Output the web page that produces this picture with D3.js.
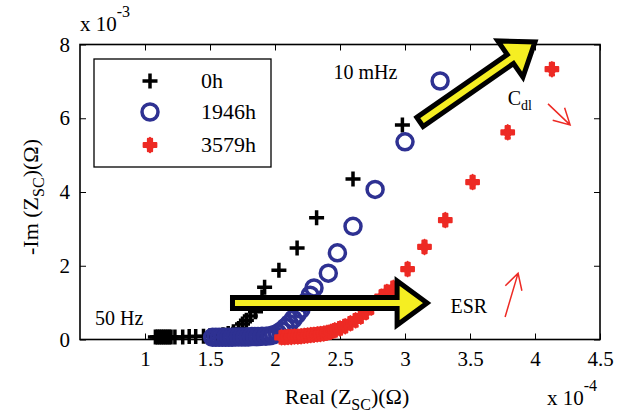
<!DOCTYPE html>
<html>
<head>
<meta charset="utf-8">
<script src="https://cdn.jsdelivr.net/npm/d3@7"></script>
<style>
body { margin: 0; background: #fff; }
text { font-family: "Liberation Serif", "Times New Roman", serif; fill: #000; }
</style>
</head>
<body>
<div id="chart"></div>
<script>
// Nyquist data: [Real x 1e-4, -Im x 1e-3]
const h0 = [
  [1.08,0.07],[1.095,0.07],[1.11,0.07],[1.125,0.07],[1.14,0.07],[1.155,0.07],[1.17,0.07],[1.185,0.07],[1.20,0.07],
  [1.23,0.07],[1.29,0.07],[1.34,0.08],[1.39,0.08],[1.45,0.09],[1.50,0.10],[1.55,0.11],[1.60,0.13],[1.64,0.16],
  [1.68,0.21],[1.72,0.30],[1.75,0.42],[1.78,0.52],[1.81,0.64],[1.85,0.75],[1.88,0.95],[1.90,1.15],[1.92,1.42],
  [2.03,1.88],[2.17,2.48],[2.32,3.30],[2.60,4.35],[2.98,5.82]
];
const h1946 = [
  [1.52,0.06],[1.545,0.06],[1.57,0.06],[1.595,0.06],[1.62,0.06],[1.645,0.06],[1.67,0.06],[1.695,0.07],[1.72,0.07],
  [1.745,0.07],[1.77,0.07],[1.795,0.07],[1.82,0.08],[1.845,0.08],[1.87,0.08],[1.90,0.09],[1.93,0.09],[1.96,0.10],
  [1.99,0.13],[2.02,0.17],[2.05,0.24],[2.08,0.33],[2.11,0.43],[2.14,0.55],[2.17,0.68],[2.20,0.82],[2.23,1.00],
  [2.27,1.20],[2.30,1.40],[2.41,1.80],[2.48,2.35],[2.60,3.07],[2.77,4.07],[3.00,5.36],[3.27,7.01]
];
const h3579 = [
  [2.05,0.06],[2.075,0.06],[2.10,0.07],[2.125,0.07],[2.15,0.08],[2.175,0.08],[2.20,0.09],[2.225,0.10],[2.25,0.11],
  [2.275,0.12],[2.30,0.13],[2.325,0.14],[2.35,0.15],[2.375,0.16],[2.40,0.18],[2.43,0.21],[2.46,0.25],[2.50,0.30],
  [2.54,0.36],[2.58,0.44],[2.62,0.52],[2.66,0.62],[2.70,0.74],[2.74,0.87],[2.78,1.01],[2.82,1.16],[2.86,1.29],
  [2.91,1.40],[3.02,1.91],[3.15,2.51],[3.31,3.24],[3.52,4.27],[3.79,5.62],[4.13,7.33]
];
const legendLabels = ["0h", "1946h", "3579h"];
const xTicks = [1, 1.5, 2, 2.5, 3, 3.5, 4, 4.5];
const yTicks = [0, 2, 4, 6, 8];
// annotation arrows in data units
const bigArrows = [
  { from: [1.673, 0.99], to: [3.17, 0.99] },
  { from: [3.115, 5.90], to: [4.00, 8.07] }
];
const thinArrows = [
  { from: [4.10, 6.39], to: [4.27, 5.82] },
  { from: [3.77, 0.61], to: [3.87, 1.80] }
];
const notes = [
  { text: "10 mHz", at: [2.45, 7.06] },
  { text: "ESR", at: [3.35, 0.71] },
  { text: "50 Hz", at: [0.615, 0.39] }
];

const width = 630, height = 415;
const svg = d3.select("#chart").append("svg")
  .attr("width", width).attr("height", height);

const x = d3.scaleLinear().domain([0.5, 4.5]).range([80, 600]);
const y = d3.scaleLinear().domain([0, 8]).range([339.5, 44.5]);

const blue = "#2e3192", red = "#ed2a24";

// axes (ticks point inward, box on all sides)
const fmt = d => d3.format("")(d);
svg.append("g").attr("transform", "translate(0,339.5)")
  .call(d3.axisBottom(x).tickValues(xTicks).tickFormat(fmt).tickSize(-6).tickSizeOuter(0).tickPadding(12));
svg.append("g").attr("transform", "translate(0,44.5)")
  .call(d3.axisTop(x).tickValues(xTicks).tickFormat("").tickSize(-6).tickSizeOuter(0));
svg.append("g").attr("transform", "translate(80,0)")
  .call(d3.axisLeft(y).tickValues(yTicks).tickSize(-6).tickSizeOuter(0).tickPadding(10));
svg.append("g").attr("transform", "translate(600,0)")
  .call(d3.axisRight(y).tickValues(yTicks).tickFormat("").tickSize(-6).tickSizeOuter(0));
svg.selectAll(".tick text").attr("font-size", 21).attr("font-family", "Liberation Serif");
svg.selectAll(".tick line").attr("stroke", "#000").attr("stroke-width", 1);
svg.selectAll(".domain").remove();
svg.append("rect").attr("x", 80).attr("y", 44.5).attr("width", 520).attr("height", 295)
  .attr("fill", "none").attr("stroke", "#000").attr("stroke-width", 1.6);

// axis titles
const xt = svg.append("text").attr("x", 347).attr("y", 404).attr("text-anchor", "middle").attr("font-size", 22);
xt.append("tspan").text("Real (Z");
xt.append("tspan").attr("font-size", 16).attr("dy", 6).text("SC");
xt.append("tspan").attr("dy", -6).text(")(\u03A9)");

const yt = svg.append("text").attr("transform", "translate(38,197) rotate(-90)")
  .attr("text-anchor", "middle").attr("font-size", 22);
yt.append("tspan").text("-Im (Z");
yt.append("tspan").attr("font-size", 16).attr("dy", 6).text("SC");
yt.append("tspan").attr("dy", -6).text(")(\u03A9)");

const ex = svg.append("text").attr("x", 547).attr("y", 405).attr("font-size", 21);
ex.append("tspan").text("x 10");
ex.append("tspan").attr("font-size", 16).attr("dy", -14).text("-4");
const ey = svg.append("text").attr("x", 80).attr("y", 31).attr("font-size", 21);
ey.append("tspan").text("x 10");
ey.append("tspan").attr("font-size", 16).attr("dy", -14).text("-3");

// markers
function plus(g, cx, cy) {
  g.append("path").attr("d", `M${cx - 7.5},${cy}H${cx + 7.5}M${cx},${cy - 7.5}V${cy + 7.5}`)
    .attr("stroke", "#000").attr("stroke-width", 3.5).attr("fill", "none");
}
function ring(g, cx, cy) {
  g.append("circle").attr("cx", cx).attr("cy", cy).attr("r", 8)
    .attr("fill", "none").attr("stroke", blue).attr("stroke-width", 3.5);
}
const crossSym = d3.symbol().type(d3.symbolCross).size(90);
const diamSym = d3.symbol().type(d3.symbolDiamond).size(60);
function star(g, cx, cy) {
  g.append("path").attr("d", crossSym() + diamSym()).attr("transform", `translate(${cx},${cy})`)
    .attr("fill", red).attr("stroke", red).attr("stroke-width", 2).attr("stroke-linejoin", "round");
}
const drawers = [plus, ring, star];

const plot = svg.append("g");
[h0, h1946, h3579].forEach((s, i) => {
  s.forEach(d => drawers[i](plot, x(d[0]), y(d[1])));
});

// big yellow arrows
bigArrows.forEach(a => {
  const x0 = x(a.from[0]), y0 = y(a.from[1]), x1 = x(a.to[0]), y1 = y(a.to[1]);
  const len = Math.hypot(x1 - x0, y1 - y0);
  const ang = Math.atan2(y1 - y0, x1 - x0) * 180 / Math.PI;
  const hw = 5.5, hh = 22, hl = 30;
  const pts = [[0, -hw], [len - hl, -hw], [len - hl, -hh], [len, 0], [len - hl, hh], [len - hl, hw], [0, hw]];
  svg.append("polygon")
    .attr("points", pts.map(p => p.join(",")).join(" "))
    .attr("transform", `translate(${x0},${y0}) rotate(${ang})`)
    .attr("fill", "#f5ee22").attr("stroke", "#000").attr("stroke-width", 5)
    .attr("stroke-linejoin", "miter");
});

// thin red arrows
thinArrows.forEach(a => {
  const x0 = x(a.from[0]), y0 = y(a.from[1]), x1 = x(a.to[0]), y1 = y(a.to[1]);
  const ang = Math.atan2(y1 - y0, x1 - x0);
  const hl = 18, spread = 0.5;
  const p1 = [x1 - hl * Math.cos(ang - spread), y1 - hl * Math.sin(ang - spread)];
  const p2 = [x1 - hl * Math.cos(ang + spread), y1 - hl * Math.sin(ang + spread)];
  svg.append("path")
    .attr("d", `M${x0},${y0}L${x1},${y1}M${p1[0]},${p1[1]}L${x1},${y1}L${p2[0]},${p2[1]}`)
    .attr("stroke", red).attr("stroke-width", 1.5).attr("fill", "none");
});

// text notes
notes.forEach(n => {
  svg.append("text").attr("x", x(n.at[0])).attr("y", y(n.at[1])).attr("font-size", 20).text(n.text);
});
const cdl = svg.append("text").attr("x", x(3.79)).attr("y", y(6.36)).attr("font-size", 20);
cdl.append("tspan").text("C");
cdl.append("tspan").attr("font-size", 14).attr("dy", 5).text("dl");

// legend
const lg = svg.append("g");
lg.append("rect").attr("x", 94).attr("y", 59).attr("width", 177).attr("height", 108)
  .attr("fill", "#fff").attr("stroke", "#000").attr("stroke-width", 1.3);
legendLabels.forEach((lab, i) => {
  const ly = [81, 112, 145][i];
  drawers[i](lg, 150, ly);
  lg.append("text").attr("x", 201).attr("y", ly + 7).attr("font-size", 22).text(lab);
});
</script>
</body>
</html>
